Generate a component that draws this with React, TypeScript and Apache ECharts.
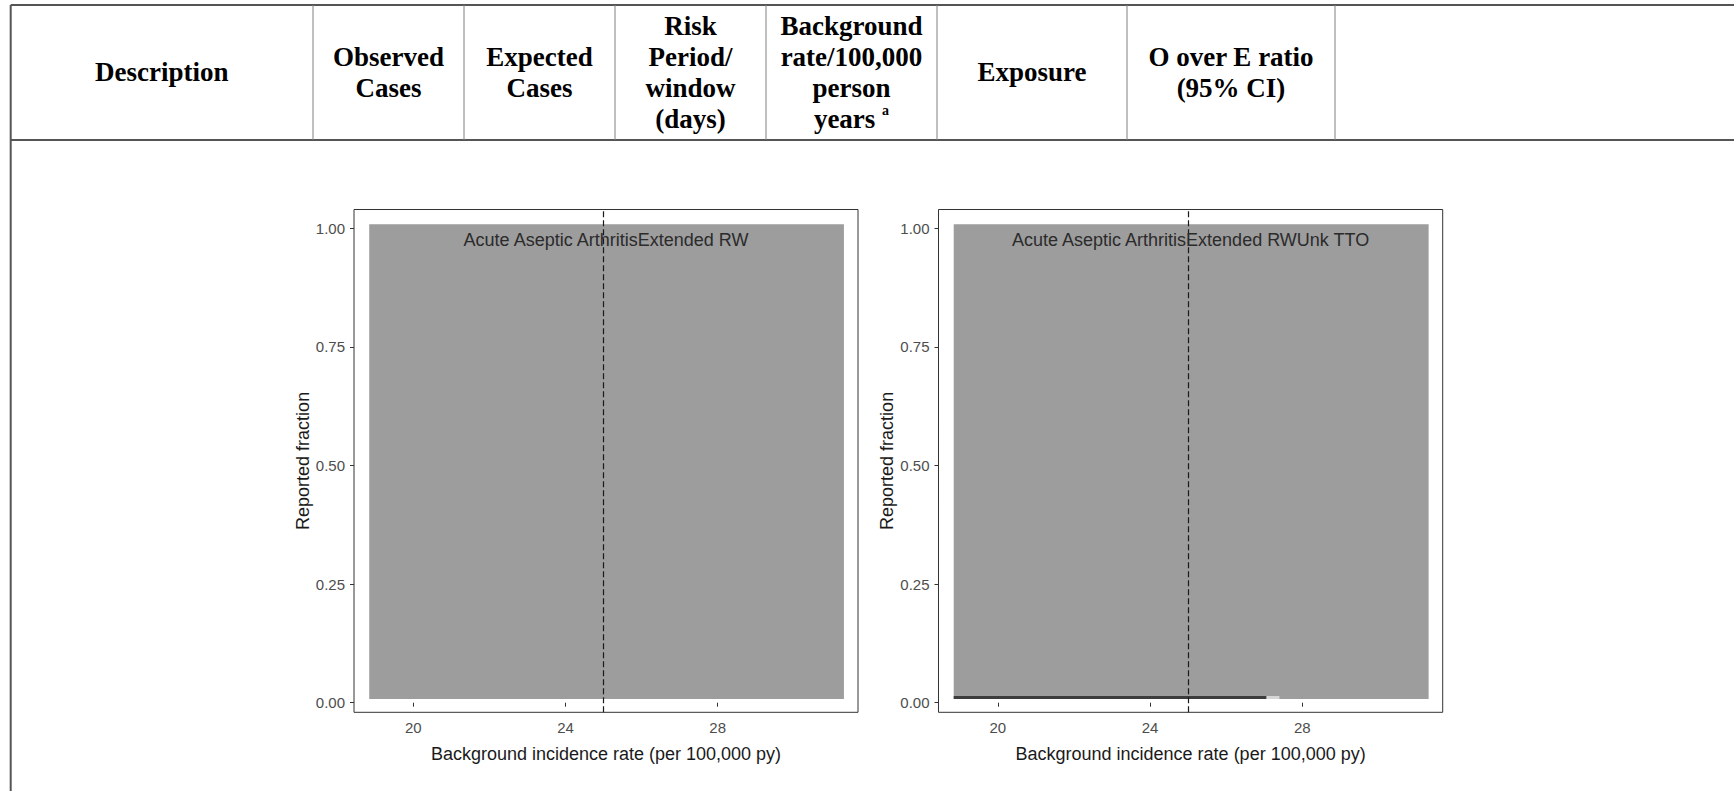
import React, { useEffect, useRef } from "react";
import * as echarts from "echarts";

// ---------------- data ----------------
const headerLabels = [
  "Description",
  "Observed\nCases",
  "Expected\nCases",
  "Risk\nPeriod/\nwindow\n(days)",
  "Background\nrate/100,000\nperson\nyears {sup|a}",
  "Exposure",
  "O over E ratio\n(95% CI)",
  "",
];
const facetTitles = [
  "Acute Aseptic ArthritisExtended RW",
  "Acute Aseptic ArthritisExtended RWUnk TTO",
];
const xTickValues = [20, 24, 28];
const yTickValues = [0, 0.25, 0.5, 0.75, 1];
const xLimits = [18.44, 31.69];
const yLimits = [-0.0202, 1.0396];
const referenceRate = 25;
const xAxisTitle = "Background incidence rate (per 100,000 py)";
const yAxisTitle = "Reported fraction";
// tiles: [xStart, xEnd, yStart, yEnd, shadeLevel]
const leftTiles = [[18.84, 31.32, 0.0078, 1.0084, 1]];
const rightTiles = [
  [18.84, 31.32, 0.0078, 1.0084, 1],
  [18.84, 27.06, 0.0078, 0.0141, 2],
  [27.06, 27.4, 0.0078, 0.0141, 0],
];

// ---------------- layout ----------------
const W = 1734;
const H = 791;
const tableTop = 5;
const headerBottom = 140;
const columnEdges = [10.7, 313, 464, 615, 766, 937, 1127, 1335, W];
const panels = [
  { left: 354, top: 209.5, width: 504, height: 502.8 },
  { left: 938.5, top: 209.5, width: 504.2, height: 502.8 },
];
const shades = ["#d6d6d6", "#9d9d9d", "#3c3c3c"];
const sansFont = '"Liberation Sans", Arial, sans-serif';
const serifFont = '"Liberation Serif", "Times New Roman", serif';

function buildGraphic() {
  const els: any[] = [];
  // horizontal table lines
  [tableTop, headerBottom].forEach((y) => {
    els.push({
      type: "line",
      shape: { x1: columnEdges[0], y1: y, x2: W, y2: y },
      style: { stroke: "#555", lineWidth: 2 },
      silent: true,
    });
  });
  // left outer border
  els.push({
    type: "line",
    shape: { x1: columnEdges[0], y1: tableTop, x2: columnEdges[0], y2: H },
    style: { stroke: "#555", lineWidth: 2 },
    silent: true,
  });
  // column dividers
  columnEdges.slice(1, -1).forEach((x) => {
    els.push({
      type: "line",
      shape: { x1: x, y1: tableTop, x2: x, y2: headerBottom },
      style: { stroke: "#808080", lineWidth: 1 },
      silent: true,
    });
  });
  // header texts
  headerLabels.forEach((label, i) => {
    if (!label) return;
    const cx = (columnEdges[i] + columnEdges[i + 1]) / 2;
    els.push({
      type: "text",
      silent: true,
      style: {
        text: label,
        x: cx,
        y: 72,
        textAlign: "center",
        textVerticalAlign: "middle",
        fontFamily: serifFont,
        fontWeight: "bold",
        fontSize: 27,
        lineHeight: 31,
        fill: "#000",
        rich: {
          sup: {
            fontFamily: serifFont,
            fontWeight: "bold",
            fontSize: 14,
            lineHeight: 17,
            verticalAlign: "top",
            fill: "#000",
          },
        },
      },
    });
  });
  // facet titles inside panels
  facetTitles.forEach((t, i) => {
    const p = panels[i];
    els.push({
      type: "text",
      silent: true,
      z: 100,
      style: {
        text: t,
        x: p.left + p.width / 2,
        y: 240,
        textAlign: "center",
        textVerticalAlign: "middle",
        fontFamily: sansFont,
        fontSize: 18,
        fill: "#2b2b2b",
      },
    });
  });
  return els;
}

function tileSeries(data: number[][], idx: number) {
  return {
    type: "custom",
    xAxisIndex: idx,
    yAxisIndex: idx,
    silent: true,
    encode: { x: [0, 1], y: [2, 3] },
    data,
    renderItem: (params: any, api: any) => {
      const p0 = api.coord([api.value(0), api.value(3)]);
      const p1 = api.coord([api.value(1), api.value(2)]);
      return {
        type: "rect",
        shape: { x: p0[0], y: p0[1], width: p1[0] - p0[0], height: p1[1] - p0[1] },
        style: { fill: shades[api.value(4)] },
      };
    },
    markLine: {
      silent: true,
      symbol: "none",
      label: { show: false },
      lineStyle: { color: "#1a1a1a", width: 1.2, type: [6, 3] },
      data: [{ xAxis: referenceRate }],
    },
  };
}

export default function App() {
  const ref = useRef<HTMLDivElement>(null);
  useEffect(() => {
    if (!ref.current) return;
    const chart = echarts.init(ref.current, undefined, { renderer: "svg" });
    const grids = panels.map((p) => ({
      left: p.left,
      top: p.top,
      width: p.width,
      height: p.height,
      show: true,
      borderColor: "#333",
      borderWidth: 1,
      backgroundColor: "#fff",
    }));
    const xAxes = panels.map((_, i) => ({
      type: "value",
      gridIndex: i,
      min: xLimits[0],
      max: xLimits[1],
      name: xAxisTitle,
      nameLocation: "middle",
      nameGap: 33,
      nameTextStyle: { fontFamily: sansFont, fontSize: 18, color: "#1a1a1a" },
      axisLine: { show: false },
      splitLine: { show: false },
      axisTick: { show: true, length: 4, lineStyle: { color: "#333" }, customValues: xTickValues },
      axisLabel: {
        customValues: xTickValues,
        fontFamily: sansFont,
        fontSize: 15,
        color: "#4d4d4d",
        margin: 8,
      },
    }));
    const yAxes = panels.map((_, i) => ({
      type: "value",
      gridIndex: i,
      min: yLimits[0],
      max: yLimits[1],
      name: yAxisTitle,
      nameLocation: "middle",
      nameGap: 42,
      nameTextStyle: { fontFamily: sansFont, fontSize: 18, color: "#1a1a1a" },
      axisLine: { show: false },
      splitLine: { show: false },
      axisTick: { show: true, length: 4, lineStyle: { color: "#333" }, customValues: yTickValues },
      axisLabel: {
        customValues: yTickValues,
        formatter: (v: number) => v.toFixed(2),
        fontFamily: sansFont,
        fontSize: 15,
        color: "#4d4d4d",
        margin: 9,
      },
    }));
    chart.setOption({
      animation: false,
      backgroundColor: "#fff",
      grid: grids,
      xAxis: xAxes,
      yAxis: yAxes,
      series: [tileSeries(leftTiles, 0), tileSeries(rightTiles, 1)],
      graphic: buildGraphic(),
    });
    return () => chart.dispose();
  }, []);
  return (
    <div
      ref={ref}
      style={{ position: "fixed", left: 0, top: 0, width: W, height: H, background: "#fff" }}
    />
  );
}
